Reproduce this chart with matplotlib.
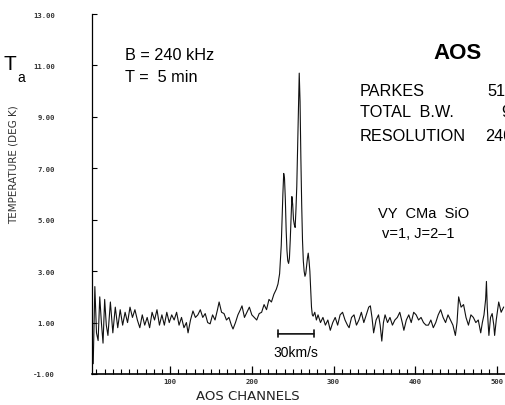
import matplotlib
matplotlib.use("Agg")
import matplotlib.pyplot as plt
from matplotlib.ticker import MultipleLocator, FormatStrFormatter

# spectrum (channel, antenna temperature)
channels = [3, 6, 8, 10, 12, 14, 16, 18, 20, 22, 24, 27, 30, 33, 36, 39, 42, 45, 48, 51,
            54, 57, 60, 63, 66, 69, 72, 75, 78, 81, 84, 87, 90, 93, 96, 99, 102, 105, 108, 111,
            114, 117, 120, 122, 125, 128, 131, 134, 137, 140, 143, 146, 149, 152, 155, 158, 160, 163, 166, 169,
            172, 175, 177, 180, 183, 186, 188, 191, 194, 197, 200, 203, 206, 209, 212, 215, 218, 221, 224, 227,
            230, 232, 234, 236, 237, 238, 239, 240, 241, 242, 243, 244, 245, 246, 247, 248, 249, 250, 251, 252,
            253, 254, 255, 256, 257, 258, 259, 260, 261, 262, 263, 264, 265, 266, 267, 268, 269, 270, 271, 272,
            273, 274, 275, 277, 279, 281, 284, 287, 290, 293, 296, 299, 302, 305, 308, 311, 314, 317, 319, 322,
            325, 328, 331, 334, 337, 340, 343, 345, 347, 349, 352, 355, 357, 359, 361, 363, 366, 369, 372, 375,
            378, 381, 384, 386, 389, 392, 395, 398, 401, 404, 407, 410, 413, 416, 419, 422, 425, 428, 431, 434,
            437, 440, 443, 446, 449, 451, 453, 456, 459, 462, 465, 468, 471, 474, 477, 480, 482, 484, 486, 487,
            488, 489, 490, 492, 494, 496, 497, 499, 502, 505, 508]
temps = [0.9, -0.6, 2.4, 0.6, 0.3, 2.0, 1.0, 0.2, 1.9, 0.9, 0.5, 1.8, 0.6, 1.6, 0.8, 1.5, 0.9, 1.4, 1.0, 1.6,
         1.2, 1.5, 1.1, 0.8, 1.3, 0.9, 1.2, 0.8, 1.4, 1.1, 1.5, 0.9, 1.3, 0.9, 1.4, 1.0, 1.3, 1.1, 1.4, 0.9,
         1.2, 0.8, 1.0, 0.6, 1.1, 1.45, 1.2, 1.3, 1.5, 1.2, 1.35, 1.0, 0.95, 1.3, 1.1, 1.5, 1.8, 1.4, 1.35, 1.1,
         1.2, 0.9, 0.75, 1.0, 1.3, 1.5, 1.65, 1.2, 1.4, 1.6, 1.3, 1.2, 1.1, 1.35, 1.4, 1.7, 1.5, 1.9, 1.8, 2.1,
         2.3, 2.5, 2.9, 4.0, 5.0, 6.0, 6.8, 6.6, 5.8, 4.6, 3.8, 3.4, 3.3, 3.5, 4.2, 5.0, 5.9, 5.6, 5.0, 4.8,
         4.7, 5.4, 6.3, 7.8, 9.2, 10.7, 9.6, 7.4, 5.6, 4.2, 3.4, 3.0, 2.8, 2.9, 3.2, 3.5, 3.7, 3.4, 3.0, 2.3,
         1.6, 1.3, 1.25, 1.4, 1.1, 1.3, 1.0, 1.2, 0.9, 1.1, 0.7, 1.0, 1.2, 0.9, 1.3, 1.4, 1.1, 0.9, 0.8, 1.2,
         1.3, 0.9, 1.1, 1.4, 1.0, 1.3, 1.6, 1.65, 1.2, 0.6, 1.1, 1.3, 0.9, 0.28, 1.0, 1.3, 1.0, 1.2, 0.9, 1.1,
         1.2, 1.4, 1.0, 0.7, 1.1, 1.3, 1.0, 1.4, 1.3, 1.1, 1.2, 1.0, 0.9, 0.9, 1.1, 0.8, 1.0, 1.3, 1.5, 1.2,
         1.0, 1.3, 1.1, 0.9, 0.5, 1.0, 2.0, 1.6, 1.7, 1.2, 0.9, 1.3, 1.2, 1.0, 1.1, 0.6, 1.0, 1.3, 1.9, 2.6,
         1.6, 1.0, 0.5, 1.2, 1.35, 0.9, 0.5, 1.1, 1.8, 1.4, 1.6]

y_ticks = [-1, 1, 3, 5, 7, 9, 11, 13]
x_ticks = [100, 200, 300, 400, 500]

# velocity scale bar
bar_start = 232
bar_end = 276
bar_level = 0.56
bar_label = "30km/s"

W, H = 505, 406
fig = plt.figure(figsize=(W / 100, H / 100), dpi=100)
ax = fig.add_axes([92.4 / W, 1 - 375 / H, 1 - 92.4 / W, (375 - 15) / H])

ax.plot(channels, temps, color="#111111", lw=0.8)

ax.set_xlim(5, 509.7)
ax.set_ylim(-1, 13)
ax.spines["top"].set_visible(False)
ax.spines["right"].set_visible(False)
ax.spines["bottom"].set_linewidth(1.2)
ax.spines["left"].set_linewidth(0.9)

ax.set_xticks(x_ticks)
ax.xaxis.set_minor_locator(MultipleLocator(10))
ax.set_yticks(y_ticks)
ax.yaxis.set_major_formatter(FormatStrFormatter("%.2f"))
ax.tick_params(axis="x", which="major", direction="in", length=6, width=0.9, pad=3)
ax.tick_params(axis="x", which="minor", direction="in", length=3.5, width=0.8)
ax.tick_params(axis="y", which="major", direction="in", length=3.5, width=0.8, pad=27)
for lab in ax.get_xticklabels() + ax.get_yticklabels():
    lab.set_fontfamily("DejaVu Sans Mono")
    lab.set_fontsize(5.2)
    lab.set_fontweight("bold")
    lab.set_color("#333333")

ax.annotate("", xy=(bar_start, bar_level), xytext=(bar_end, bar_level),
            arrowprops=dict(arrowstyle="|-|, widthA=0.25, widthB=0.25", lw=1.2, color="#111111",
                            shrinkA=0, shrinkB=0))
ax.text((bar_start + bar_end) / 2, -0.14, bar_label, ha="center", va="center",
        fontsize=10, family="Liberation Sans")

def ftext(x, y, s, **kw):
    fig.text(x / W, 1 - y / H, s, **kw)

sans = "Liberation Sans"
ftext(14, 165, "TEMPERATURE (DEG K)", rotation=90, ha="center", va="center",
      fontsize=7.5, color="#333333")
ftext(248, 397, "AOS CHANNELS", ha="center", va="center", fontsize=9.5, color="#222222")
ftext(10, 65, "T", ha="center", va="center", fontsize=15, family=sans)
ftext(21, 78, "a", ha="center", va="center", fontsize=10, family=sans)

ftext(125, 56, "B = 240 kHz", ha="left", va="center", fontsize=11.7, family=sans)
ftext(125, 77, "T =  5 min", ha="left", va="center", fontsize=11.7, family=sans)
ftext(433, 54, "AOS", ha="left", va="center", fontsize=16, fontweight="bold", family=sans)
ftext(360, 91, "PARKES", ha="left", va="center", fontsize=11.7, family=sans)
ftext(360, 113, "TOTAL  B.W.", ha="left", va="center", fontsize=11.7, family=sans)
ftext(360, 137, "RESOLUTION", ha="left", va="center", fontsize=11.7, family=sans)
ftext(487, 91, "512", ha="left", va="center", fontsize=11.7, family=sans)
ftext(501, 113, "90", ha="left", va="center", fontsize=11.7, family=sans)
ftext(485, 137, "240", ha="left", va="center", fontsize=11.7, family=sans)
ftext(378, 214, "VY  CMa  SiO", ha="left", va="center", fontsize=10.5, family=sans)
ftext(382, 234, "v=1, J=2\u20131", ha="left", va="center", fontsize=10.5, family=sans)

fig.savefig("out.png", dpi=100)
